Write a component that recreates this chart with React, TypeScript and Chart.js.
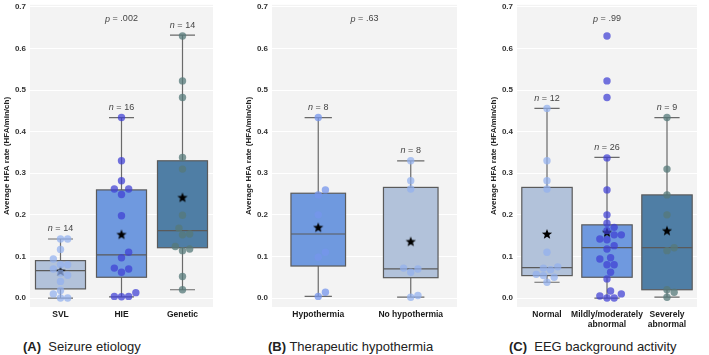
import React, { useEffect, useRef } from "react";
import { Chart, registerables } from "chart.js";

Chart.register(...registerables);

// ---- (A) Seizure etiology ----
const etiologyGroups: (string | string[])[] = ["SVL", "HIE", "Genetic"];
const svlValues = [0.142, 0.142, 0.117, 0.094, 0.08, 0.08, 0.07, 0.06, 0.055, 0.04, 0.018, 0.01, 0.0, 0.0];
const hieValues = [0.434, 0.33, 0.282, 0.262, 0.262, 0.249, 0.198, 0.11, 0.097, 0.072, 0.07, 0.062, 0.013, 0.004, 0.004, 0.003];
const geneticValues = [0.63, 0.522, 0.482, 0.338, 0.31, 0.199, 0.168, 0.154, 0.152, 0.124, 0.118, 0.114, 0.052, 0.02];
const etiologyQ1 = [0.022, 0.05, 0.121];
const etiologyMedian = [0.066, 0.104, 0.162];
const etiologyQ3 = [0.09, 0.26, 0.33];
const etiologyWhiskerLow = [0.0, 0.003, 0.02];
const etiologyWhiskerHigh = [0.142, 0.434, 0.632];
const etiologyMean = [0.065, 0.153, 0.242];
const etiologyP = ".002";

// ---- (B) Therapeutic hypothermia ----
const hypothermiaGroups: (string | string[])[] = ["Hypothermia", "No hypothermia"];
const hypothermiaValues = [0.434, 0.26, 0.248, 0.2, 0.11, 0.098, 0.014, 0.004];
const noHypothermiaValues = [0.33, 0.282, 0.262, 0.072, 0.07, 0.062, 0.006, 0.002];
const hypothermiaQ1 = [0.077, 0.049];
const hypothermiaMedian = [0.154, 0.07];
const hypothermiaQ3 = [0.252, 0.266];
const hypothermiaWhiskerLow = [0.004, 0.002];
const hypothermiaWhiskerHigh = [0.434, 0.33];
const hypothermiaMean = [0.17, 0.136];
const hypothermiaP = ".63";

// ---- (C) EEG background activity ----
const eegGroups: (string | string[])[] = ["Normal", ["Mildly/moderately", "abnormal"], ["Severely", "abnormal"]];
const normalValues = [0.456, 0.33, 0.282, 0.262, 0.11, 0.075, 0.072, 0.068, 0.057, 0.054, 0.05, 0.038];
const mildValues = [0.63, 0.522, 0.482, 0.337, 0.26, 0.2, 0.18, 0.17, 0.162, 0.152, 0.152, 0.142, 0.14, 0.126, 0.118, 0.097, 0.094, 0.08, 0.08, 0.062, 0.046, 0.017, 0.01, 0.005, 0.0, 0.0];
const severeValues = [0.434, 0.31, 0.248, 0.2, 0.121, 0.114, 0.02, 0.014, 0.002];
const eegQ1 = [0.054, 0.05, 0.02];
const eegMedian = [0.073, 0.121, 0.121];
const eegQ3 = [0.266, 0.176, 0.248];
const eegWhiskerLow = [0.038, 0.0, 0.002];
const eegWhiskerHigh = [0.456, 0.338, 0.434];
const eegMean = [0.154, 0.158, 0.162];
const eegP = ".99";

const yTicks = [0, 0.1, 0.2, 0.3, 0.4, 0.5, 0.6, 0.7];

// colours
const LIGHT_BOX = "#b2c2da";
const MID_BOX = "#6f99df";
const DARK_BOX = "#4f7ea5";
const LIGHT_PT = "rgba(145,176,238,0.72)";
const MID_PT = "rgba(62,62,212,0.72)";
const SOFT_PT = "rgba(118,150,236,0.75)";
const DARK_PT = "rgba(86,122,122,0.75)";

const Y_MIN = -0.0215;
const Y_MAX = 0.705;
const PX_PER_Y = 417;

// beeswarm-style horizontal offsets so that dots do not pile up
function swarmOffsets(values: number[], pxPerX: number, minDist: number): number[] {
  const order = values.map((_, i) => i).sort((a, b) => values[a] - values[b]);
  const placed: { x: number; y: number }[] = [];
  const out = new Array(values.length).fill(0);
  for (const i of order) {
    const y = values[i] * PX_PER_Y;
    let chosen = 0;
    for (let k = 0; k < 60; k++) {
      const step = Math.ceil(k / 2) * minDist * 0.5;
      const cand = k === 0 ? 0 : k % 2 ? step : -step;
      if (placed.every((p) => Math.hypot(p.x - cand, p.y - y) >= minDist)) {
        chosen = cand;
        break;
      }
    }
    placed.push({ x: chosen, y });
    out[i] = chosen / pxPerX;
  }
  return out;
}

function makeStar(): HTMLCanvasElement {
  const c = document.createElement("canvas");
  c.width = 12;
  c.height = 12;
  const ctx = c.getContext("2d")!;
  ctx.beginPath();
  for (let k = 0; k < 10; k++) {
    const r = k % 2 === 0 ? 5.4 : 2.3;
    const a = -Math.PI / 2 + (k * Math.PI) / 5;
    const x = 6 + r * Math.cos(a);
    const y = 6.4 + r * Math.sin(a);
    if (k === 0) ctx.moveTo(x, y);
    else ctx.lineTo(x, y);
  }
  ctx.closePath();
  ctx.fillStyle = "#000";
  ctx.fill();
  return c;
}

type PanelProps = {
  left: number;
  width: number;
  groups: (string | string[])[];
  values: number[][];
  q1: number[];
  median: number[];
  q3: number[];
  whiskerLow: number[];
  whiskerHigh: number[];
  mean: number[];
  p: string;
  boxFill: string[];
  pointColor: string[];
  boxWidth: number;
};

// the canvas is lifted so the plot area spans page rows 4..307
const CANVAS_SHIFT = 4;
const AXIS_W = 30;
const PLOT_BOTTOM = 307 + CANVAS_SHIFT;
const X_AXIS_H = 24;
const CANVAS_H = PLOT_BOTTOM + X_AXIS_H;

function drawStatLabel(ctx: CanvasRenderingContext2D, letter: string, rest: string, cx: number, cy: number) {
  const italic = "italic 9px Arial, 'Liberation Sans', sans-serif";
  const normal = "9px Arial, 'Liberation Sans', sans-serif";
  ctx.font = italic;
  const w1 = ctx.measureText(letter).width;
  ctx.font = normal;
  const w2 = ctx.measureText(rest).width;
  const x0 = cx - (w1 + w2) / 2;
  ctx.fillStyle = "#444";
  ctx.textBaseline = "middle";
  ctx.textAlign = "left";
  ctx.font = italic;
  ctx.fillText(letter, x0, cy);
  ctx.font = normal;
  ctx.fillText(rest, x0 + w1, cy);
}

function Panel(props: PanelProps) {
  const ref = useRef<HTMLCanvasElement>(null);
  useEffect(() => {
    const canvas = ref.current!;
    const n = props.groups.length;
    const plotW = props.width - AXIS_W;
    const pxPerX = plotW / n;

    const pointSets = props.values.map((vals, g) => {
      const offs = swarmOffsets(vals, pxPerX, 7.4);
      return {
        type: "scatter" as const,
        data: vals.map((v, i) => ({ x: g + offs[i], y: v })),
        pointRadius: 3.7,
        pointHoverRadius: 3.7,
        pointBackgroundColor: props.pointColor[g],
        pointBorderWidth: 0,
        borderColor: "transparent",
        clip: false as const,
      };
    });
    const star = makeStar();
    const meanSet = {
      type: "scatter" as const,
      data: props.mean.map((m, g) => ({ x: g, y: m })),
      pointStyle: star,
      pointRadius: 5,
      borderColor: "transparent",
      clip: false as const,
    };

    const boxPlugin = {
      id: "boxes",
      beforeDraw(chart: any) {
        const { ctx, chartArea } = chart;
        ctx.save();
        ctx.fillStyle = "#f3f3f3";
        ctx.fillRect(chartArea.left, chartArea.top, chartArea.right - chartArea.left, chartArea.bottom - chartArea.top);
        ctx.restore();
      },
      beforeDatasetsDraw(chart: any) {
        const ctx: CanvasRenderingContext2D = chart.ctx;
        const xs = chart.scales.x;
        const ys = chart.scales.y;
        const half = ((xs.getPixelForValue(1) - xs.getPixelForValue(0)) * props.boxWidth) / 2;
        ctx.save();
        for (let g = 0; g < n; g++) {
          const cx = xs.getPixelForValue(g);
          const yq1 = ys.getPixelForValue(props.q1[g]);
          const yq3 = ys.getPixelForValue(props.q3[g]);
          const ymed = ys.getPixelForValue(props.median[g]);
          const ylo = ys.getPixelForValue(props.whiskerLow[g]);
          const yhi = ys.getPixelForValue(props.whiskerHigh[g]);
          ctx.strokeStyle = "#6a6a6a";
          ctx.lineWidth = 1.2;
          ctx.beginPath();
          ctx.moveTo(cx, yq3);
          ctx.lineTo(cx, yhi);
          ctx.moveTo(cx, yq1);
          ctx.lineTo(cx, ylo);
          ctx.moveTo(cx - half / 2, yhi);
          ctx.lineTo(cx + half / 2, yhi);
          ctx.moveTo(cx - half / 2, ylo);
          ctx.lineTo(cx + half / 2, ylo);
          ctx.stroke();
          ctx.fillStyle = props.boxFill[g];
          ctx.fillRect(cx - half, yq3, 2 * half, yq1 - yq3);
          ctx.strokeStyle = "#5a5a5a";
          ctx.strokeRect(cx - half, yq3, 2 * half, yq1 - yq3);
          ctx.beginPath();
          ctx.moveTo(cx - half, ymed);
          ctx.lineTo(cx + half, ymed);
          ctx.stroke();
        }
        ctx.restore();
      },
      afterDatasetsDraw(chart: any) {
        const ctx: CanvasRenderingContext2D = chart.ctx;
        const xs = chart.scales.x;
        const ys = chart.scales.y;
        ctx.save();
        for (let g = 0; g < n; g++) {
          const cx = xs.getPixelForValue(g);
          const yhi = ys.getPixelForValue(props.whiskerHigh[g]);
          drawStatLabel(ctx, "n", " = " + props.values[g].length, cx, yhi - 10);
        }
        const { chartArea } = chart;
        drawStatLabel(ctx, "p", " = " + props.p, (chartArea.left + chartArea.right) / 2, 19 + CANVAS_SHIFT);
        ctx.restore();
      },
    };

    const chart = new Chart(canvas, {
      type: "scatter",
      data: { datasets: [...pointSets, meanSet] as any },
      options: {
        animation: false,
        responsive: false,
        events: [],
        layout: { padding: { top: 0, right: 0, left: 0, bottom: 0 } },
        plugins: { legend: { display: false }, tooltip: { enabled: false } },
        scales: {
          x: {
            type: "linear",
            min: -0.5,
            max: n - 0.5,
            afterBuildTicks: (scale: any) => {
              scale.ticks = props.groups.map((_, i) => ({ value: i }));
            },
            afterFit: (scale: any) => {
              scale.height = X_AXIS_H;
            },
            grid: { display: false, drawTicks: false },
            border: { display: false },
            ticks: {
              autoSkip: false,
              maxRotation: 0,
              padding: 3,
              color: "#1a1a1a",
              font: { family: "Arial, 'Liberation Sans', sans-serif", size: 8.5, weight: "bold", lineHeight: 1.15 },
              callback: (v: any) => props.groups[Math.round(Number(v))] as any,
            },
          },
          y: {
            type: "linear",
            min: Y_MIN,
            max: Y_MAX,
            afterBuildTicks: (scale: any) => {
              scale.ticks = yTicks.map((v) => ({ value: v }));
            },
            afterFit: (scale: any) => {
              scale.width = AXIS_W;
            },
            grid: { color: "#ffffff", lineWidth: 1, drawTicks: false },
            border: { display: false },
            ticks: {
              padding: 4,
              color: "#333",
              font: { family: "Arial, 'Liberation Sans', sans-serif", size: 8, weight: "bold" },
              callback: (v: any) => Number(v).toFixed(1),
            },
            title: {
              display: true,
              text: "Average HFA rate (HFA/min/ch)",
              color: "#222",
              padding: { top: 2, bottom: 0 },
              font: { family: "Arial, 'Liberation Sans', sans-serif", size: 8, weight: "bold" },
            },
          },
        },
      },
      plugins: [boxPlugin],
    });
    return () => chart.destroy();
  }, []);

  return (
    <canvas
      ref={ref}
      width={props.width}
      height={CANVAS_H}
      style={{ position: "absolute", left: props.left, top: -CANVAS_SHIFT, width: props.width, height: CANVAS_H }}
    />
  );
}

const titleStyle: React.CSSProperties = {
  position: "absolute",
  top: 339,
  fontFamily: "Arial, 'Liberation Sans', sans-serif",
  fontSize: 13,
  lineHeight: "16px",
  color: "#222",
  whiteSpace: "nowrap",
};

export default function App() {
  return (
    <div style={{ position: "fixed", left: 0, top: 0, width: 709, height: 355, background: "#fff", overflow: "hidden" }}>
      <Panel
        left={0}
        width={219}
        groups={etiologyGroups}
        values={[svlValues, hieValues, geneticValues]}
        q1={etiologyQ1}
        median={etiologyMedian}
        q3={etiologyQ3}
        whiskerLow={etiologyWhiskerLow}
        whiskerHigh={etiologyWhiskerHigh}
        mean={etiologyMean}
        p={etiologyP}
        boxFill={[LIGHT_BOX, MID_BOX, DARK_BOX]}
        pointColor={[LIGHT_PT, MID_PT, DARK_PT]}
        boxWidth={0.82}
      />
      <Panel
        left={242}
        width={221}
        groups={hypothermiaGroups}
        values={[hypothermiaValues, noHypothermiaValues]}
        q1={hypothermiaQ1}
        median={hypothermiaMedian}
        q3={hypothermiaQ3}
        whiskerLow={hypothermiaWhiskerLow}
        whiskerHigh={hypothermiaWhiskerHigh}
        mean={hypothermiaMean}
        p={hypothermiaP}
        boxFill={[MID_BOX, LIGHT_BOX]}
        pointColor={[SOFT_PT, LIGHT_PT]}
        boxWidth={0.59}
      />
      <Panel
        left={487}
        width={216}
        groups={eegGroups}
        values={[normalValues, mildValues, severeValues]}
        q1={eegQ1}
        median={eegMedian}
        q3={eegQ3}
        whiskerLow={eegWhiskerLow}
        whiskerHigh={eegWhiskerHigh}
        mean={eegMean}
        p={eegP}
        boxFill={[LIGHT_BOX, MID_BOX, DARK_BOX]}
        pointColor={[LIGHT_PT, MID_PT, DARK_PT]}
        boxWidth={0.84}
      />
      <div style={{ ...titleStyle, left: 23 }}>
        <b>(A)</b>&nbsp; Seizure etiology
      </div>
      <div style={{ ...titleStyle, left: 268 }}>
        <b>(B)</b> Therapeutic hypothermia
      </div>
      <div style={{ ...titleStyle, left: 509 }}>
        <b>(C)</b>&nbsp; EEG background activity
      </div>
    </div>
  );
}
